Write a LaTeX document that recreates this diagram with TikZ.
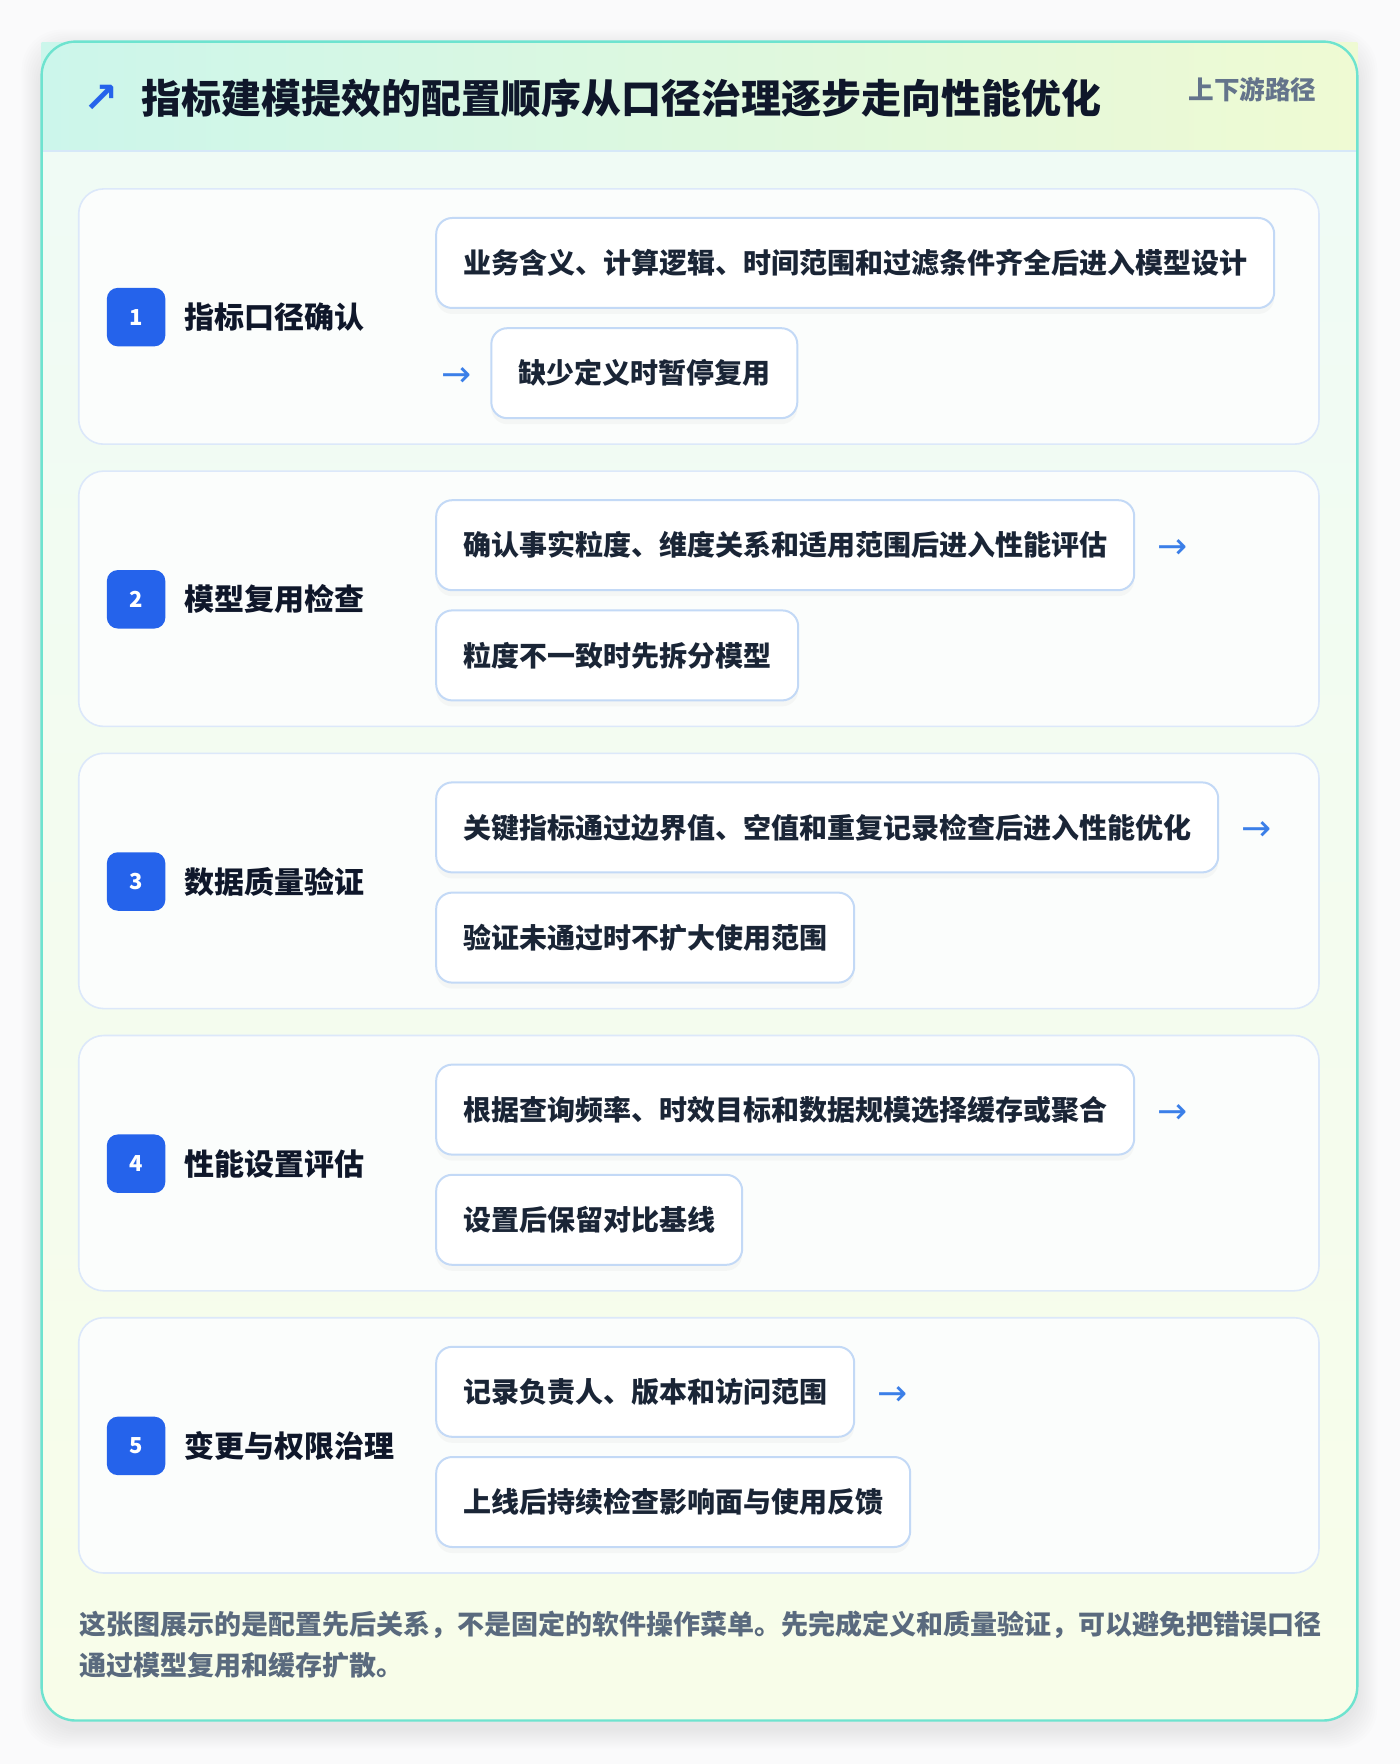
\documentclass[tikz,border=0pt]{standalone}
\usepackage{fontspec}
\setmainfont{Noto Sans CJK SC}
\newfontfamily\symbolfont{DejaVu Sans}
\usetikzlibrary{positioning,shadows}

\definecolor{pagebg}{HTML}{FAFAFB}
\definecolor{cardline}{HTML}{6EE3CF}
\definecolor{headleft}{HTML}{CCF6EB}
\definecolor{headright}{HTML}{EFFAD3}
\definecolor{headline}{HTML}{D6E8F8}
\definecolor{bodytop}{HTML}{EFFBF6}
\definecolor{bodybottom}{HTML}{F8FDE9}
\definecolor{panelfill}{HTML}{FBFDFC}
\definecolor{panelline}{HTML}{DCE8FA}
\definecolor{boxline}{HTML}{C3D9F6}
\definecolor{badgeblue}{HTML}{2563EB}
\definecolor{arrowblue}{HTML}{3B7FE8}
\definecolor{titletext}{HTML}{0F172A}
\definecolor{boxtext}{HTML}{1A2536}
\definecolor{mutedtext}{HTML}{64748B}
\definecolor{notetext}{HTML}{5A6A7E}

\tikzset{
  panel/.style={draw=panelline, fill=panelfill, line width=0.8pt, rounded corners=12.5pt},
  stepbox/.style={draw=boxline, fill=white, line width=1pt, rounded corners=8pt,
    minimum height=45pt, inner xsep=13.5pt, inner ysep=0pt, anchor=north west,
    text=boxtext, font=\fontsize{14}{16}\selectfont\bfseries,
    drop shadow={opacity=0.05, shadow xshift=0pt, shadow yshift=-3pt}},
  badge/.style={fill=badgeblue, text=white, rounded corners=5.5pt, minimum size=29.25pt,
    inner sep=0pt, font=\fontsize{11}{12}\selectfont\bfseries},
  steplabel/.style={anchor=west, inner sep=0pt, text=titletext, font=\fontsize{15}{17}\selectfont\bfseries},
  flowarrow/.style={inner sep=0pt, yshift=-2pt, text=arrowblue, font=\symbolfont\fontsize{18}{20}\selectfont},
}

\begin{document}
\begin{tikzpicture}[x=0.5pt, y=-0.5pt]
		%%%%% START %%%%%
		
		\useasboundingbox (0, 0) rectangle (1400, 1764);
		\fill[pagebg] (0, 0) rectangle (1400, 1764);
		
		% soft shadow under the card
		\foreach \s in {2,4,...,20}
			\fill[black, opacity=0.007, rounded corners=20pt] (41.6-\s, 49.6-\s) rectangle (1357.3+\s, 1728.5+\s);
		
		% card, header band
		\fill[top color=bodytop, bottom color=bodybottom, rounded corners=17pt] (41.6, 41.6) rectangle (1357.3, 1720.5);
		\fill[left color=headleft, right color=headright] (41.6, 42.2) rectangle (1357.3, 150.7);
		\draw[headline, line width=1pt] (41.6, 150.7) -- (1357.3, 150.7);
		\draw[cardline, line width=1.2pt, rounded corners=17pt] (41.6, 41.6) rectangle (1357.3, 1720.5);
		
		\node[text=badgeblue, inner sep=0pt, font=\symbolfont\fontsize{21}{24}\selectfont\bfseries] (trend) at (101.2, 98.5) {↗};
		\node[anchor=west, inner sep=0pt, text=titletext, font=\fontsize{20}{24}\selectfont\bfseries] (title) at (140.6, 97.8) {指标建模提效的配置顺序从口径治理逐步走向性能优化};
		\node[anchor=east, inner sep=0pt, text=mutedtext, font=\fontsize{12.8}{15}\selectfont\bfseries] (scope) at (1316.8, 90) {上下游路径};
		
		% step 1
		\draw[panel] (78.7, 188.9) rectangle (1319, 444.2);
		\node[badge] (n1) at (136.1, 317.1) {1};
		\node[steplabel] (l1) at (184.4, 317.1) {指标口径确认};
		\node[stepbox] (a1) at (435.2, 217) {业务含义、计算逻辑、时间范围和过滤条件齐全后进入模型设计};
		\node[stepbox] (b1) at (490.3, 327.2) {缺少定义时暂停复用};
		\node[flowarrow, left=9pt of b1] (r1) {→};
		
		% step 2
		\draw[panel] (78.7, 471.1) rectangle (1319, 726.4);
		\node[badge] (n2) at (136.1, 599.3) {2};
		\node[steplabel] (l2) at (184.4, 599.3) {模型复用检查};
		\node[stepbox] (a2) at (435.2, 499.2) {确认事实粒度、维度关系和适用范围后进入性能评估};
		\node[stepbox] (b2) at (435.2, 609.4) {粒度不一致时先拆分模型};
		\node[flowarrow, right=11pt of a2] (r2) {→};
		
		% step 3
		\draw[panel] (78.7, 753.3) rectangle (1319, 1008.6);
		\node[badge] (n3) at (136.1, 881.5) {3};
		\node[steplabel] (l3) at (184.4, 881.5) {数据质量验证};
		\node[stepbox] (a3) at (435.2, 781.4) {关键指标通过边界值、空值和重复记录检查后进入性能优化};
		\node[stepbox] (b3) at (435.2, 891.6) {验证未通过时不扩大使用范围};
		\node[flowarrow, right=11pt of a3] (r3) {→};
		
		% step 4
		\draw[panel] (78.7, 1035.5) rectangle (1319, 1290.8);
		\node[badge] (n4) at (136.1, 1163.7) {4};
		\node[steplabel] (l4) at (184.4, 1163.7) {性能设置评估};
		\node[stepbox] (a4) at (435.2, 1063.6) {根据查询频率、时效目标和数据规模选择缓存或聚合};
		\node[stepbox] (b4) at (435.2, 1173.8) {设置后保留对比基线};
		\node[flowarrow, right=11pt of a4] (r4) {→};
		
		% step 5
		\draw[panel] (78.7, 1317.7) rectangle (1319, 1573);
		\node[badge] (n5) at (136.1, 1445.9) {5};
		\node[steplabel] (l5) at (184.4, 1445.9) {变更与权限治理};
		\node[stepbox] (a5) at (435.2, 1345.8) {记录负责人、版本和访问范围};
		\node[stepbox] (b5) at (435.2, 1456) {上线后持续检查影响面与使用反馈};
		\node[flowarrow, right=11pt of a5] (r5) {→};
		
		\node[anchor=west, inner sep=0pt, align=left, text=notetext, font=\fontsize{13.5}{20.8}\selectfont\bfseries] (note) at (78.7, 1644.6) {这张图展示的是配置先后关系，不是固定的软件操作菜单。先完成定义和质量验证，可以避免把错误口径\\通过模型复用和缓存扩散。};
		
		%%%%% END %%%%%
	\end{tikzpicture}
\end{document}
